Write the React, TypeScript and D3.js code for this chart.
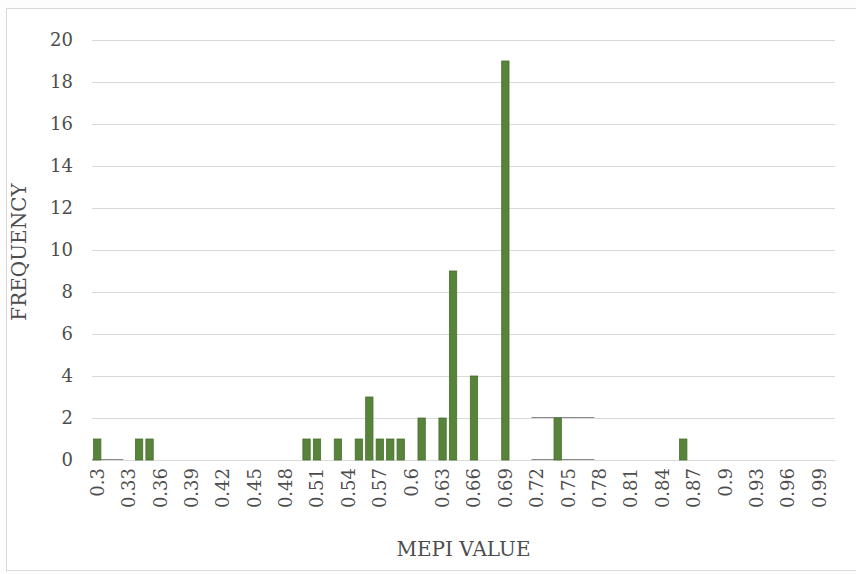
import React from "react";
import * as d3 from "d3";

// MEPI value bins (0.30 .. 1.00 in steps of 0.01)
const binValues: number[] = d3.range(30, 101).map((i) => i / 100);

// Observed frequencies per MEPI value
const mepiValues: number[] = [0.3, 0.34, 0.35, 0.5, 0.51, 0.53, 0.55, 0.56, 0.57, 0.58, 0.59, 0.61, 0.63, 0.64, 0.66, 0.69, 0.74, 0.86];
const frequencies: number[] = [1, 1, 1, 1, 1, 1, 1, 3, 1, 1, 1, 2, 2, 9, 4, 19, 2, 1];

// Thin trace lines drawn along the plot (from bin, to bin, level)
const traceFrom: number[] = [0.3, 0.72, 0.72];
const traceTo: number[] = [0.32, 0.77, 0.77];
const traceLevel: number[] = [0, 2, 0];

const yTicks: number[] = d3.range(0, 21, 2);

const W = 856;
const H = 574;
const plot = { left: 92, right: 835, top: 40, bottom: 460 };
const FONT = "'DejaVu Serif', serif";
const TEXT = "#4d4d4d";

const key = (v: number) => v.toFixed(2);
const label = (v: number) => String(Number(v.toFixed(2)));

export default function App() {
  const x = d3
    .scaleBand<string>()
    .domain(binValues.map(key))
    .range([plot.left, plot.right])
    .paddingInner(0.3)
    .paddingOuter(0.15);
  const step = x.step();
  const center = (v: number) => (x(key(v)) ?? 0) + x.bandwidth() / 2;

  const y = d3.scaleLinear().domain([0, 20]).range([plot.bottom, plot.top]);

  const bars = mepiValues.map((v, i) => ({ v, f: frequencies[i] }));
  const labelled = binValues.filter((_, i) => i % 3 === 0);

  return (
    <svg
      width={W}
      height={H}
      style={{ position: "absolute", left: 0, top: 0, background: "#fdfdfd" }}
      fontFamily={FONT}
    >
      <rect x={6.5} y={8.5} width={W - 6} height={H - 12} fill="#ffffff" stroke="#d9d9d9" strokeWidth={1} />

      {/* horizontal gridlines */}
      {yTicks.map((t) => (
        <line
          key={t}
          x1={plot.left}
          x2={plot.right}
          y1={Math.round(y(t)) + 0.5}
          y2={Math.round(y(t)) + 0.5}
          stroke="#d9d9d9"
          strokeWidth={1}
        />
      ))}

      {/* y tick labels */}
      {yTicks.map((t) => (
        <text
          key={t}
          x={73}
          y={y(t)}
          dy="0.36em"
          textAnchor="end"
          fontSize={18}
          fill={TEXT}
        >
          {t}
        </text>
      ))}

      {/* trace lines */}
      {traceFrom.map((f, i) => (
        <line
          key={i}
          x1={center(f) - step / 2}
          x2={center(traceTo[i]) + step / 2}
          y1={y(traceLevel[i]) - 0.5}
          y2={y(traceLevel[i]) - 0.5}
          stroke="#8a8a8a"
          strokeWidth={1}
        />
      ))}

      {/* bars */}
      {bars.map((b) => (
        <rect
          key={b.v}
          x={x(key(b.v))}
          y={y(b.f)}
          width={x.bandwidth()}
          height={y(0) - y(b.f)}
          fill="#58833b"
          stroke="#46702f"
          strokeWidth={0.8}
        />
      ))}

      {/* x tick labels */}
      {labelled.map((v) => (
        <text
          key={key(v)}
          transform={`translate(${center(v)},${plot.bottom + 8}) rotate(-90)`}
          dy="0.36em"
          textAnchor="end"
          fontSize={18}
          fill={TEXT}
        >
          {label(v)}
        </text>
      ))}

      {/* axis titles */}
      <text
        x={(plot.left + plot.right) / 2}
        y={556}
        textAnchor="middle"
        fontSize={20}
        fill={TEXT}
      >
        MEPI VALUE
      </text>
      <text
        transform={`translate(26,${(plot.top + plot.bottom) / 2 + 2}) rotate(-90)`}
        textAnchor="middle"
        fontSize={20}
        fill={TEXT}
      >
        FREQUENCY
      </text>
    </svg>
  );
}
